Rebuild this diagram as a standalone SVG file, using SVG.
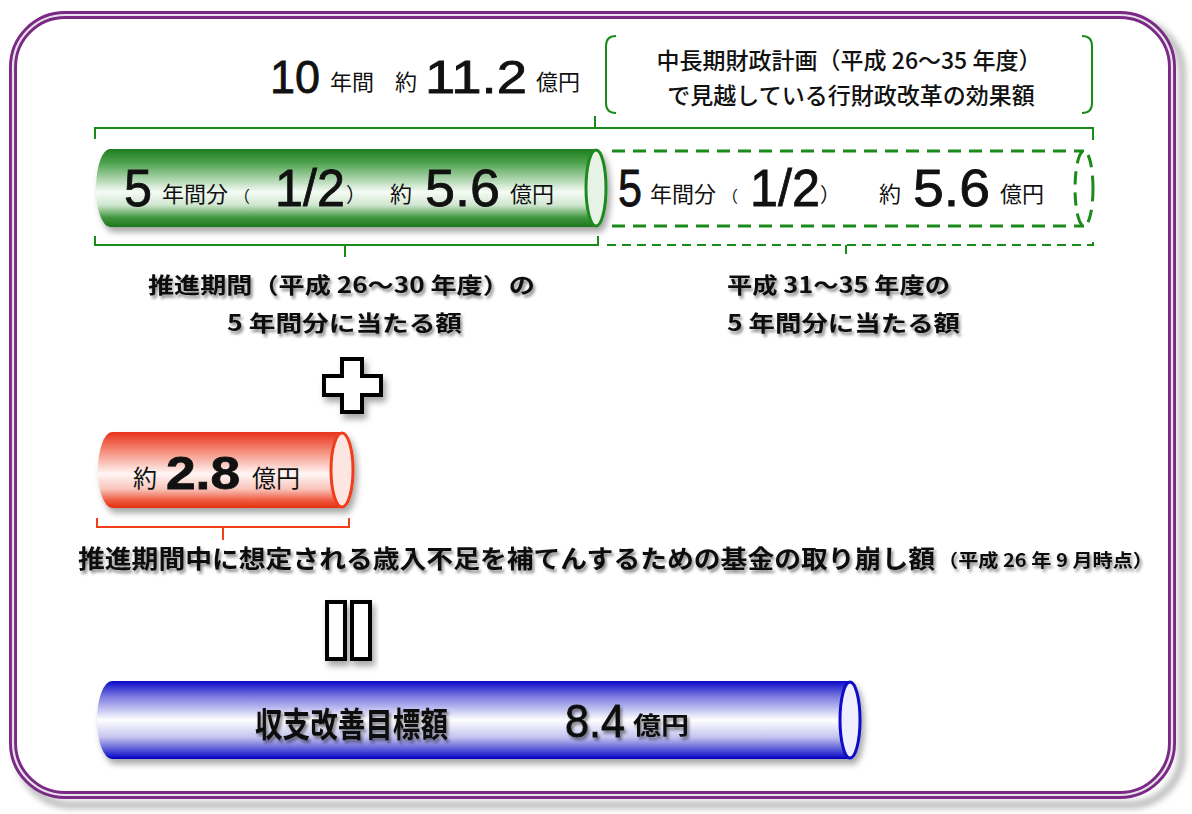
<svg xmlns="http://www.w3.org/2000/svg" width="1192" height="814" viewBox="0 0 1192 814">
<defs>
  <filter id="sh" x="-10%" y="-20%" width="130%" height="160%">
    <feDropShadow dx="3" dy="5" stdDeviation="3" flood-color="#000" flood-opacity="0.35"/>
  </filter>
  <filter id="tsh" x="-5%" y="-30%" width="110%" height="170%">
    <feDropShadow dx="2" dy="3" stdDeviation="1.6" flood-color="#000" flood-opacity="0.45"/>
  </filter>
  <filter id="fsh" x="-5%" y="-5%" width="115%" height="115%">
    <feGaussianBlur stdDeviation="3"/>
  </filter>
  <linearGradient id="gG" x1="0" y1="0" x2="0" y2="1">
    <stop offset="0" stop-color="#1f7d1f"/>
    <stop offset="0.18" stop-color="#4fa34f"/>
    <stop offset="0.55" stop-color="#f6fbf6"/>
    <stop offset="0.72" stop-color="#cfe6cf"/>
    <stop offset="0.88" stop-color="#3f963f"/>
    <stop offset="1" stop-color="#1c751c"/>
  </linearGradient>
  <linearGradient id="gR" x1="0" y1="0" x2="0" y2="1">
    <stop offset="0" stop-color="#e8321a"/>
    <stop offset="0.2" stop-color="#f27a66"/>
    <stop offset="0.55" stop-color="#fff6f4"/>
    <stop offset="0.75" stop-color="#f9c4ba"/>
    <stop offset="0.9" stop-color="#ee5a40"/>
    <stop offset="1" stop-color="#e5300f"/>
  </linearGradient>
  <linearGradient id="gB" x1="0" y1="0" x2="0" y2="1">
    <stop offset="0" stop-color="#0a0ac8"/>
    <stop offset="0.2" stop-color="#7a7ae0"/>
    <stop offset="0.5" stop-color="#ffffff"/>
    <stop offset="0.72" stop-color="#c4c4f0"/>
    <stop offset="0.9" stop-color="#4a4ad6"/>
    <stop offset="1" stop-color="#0000c0"/>
  </linearGradient>
  <style>
    .jp{font-family:"Noto Sans CJK JP","Noto Sans",sans-serif;}
    .num{font-family:"Liberation Sans",Arial,sans-serif;stroke:#111;stroke-width:0.8;}
    .b{font-weight:bold;}
    .br{fill:none;stroke:#1a8a1a;stroke-width:2;}
    .dash{fill:none;stroke:#1a8a1a;stroke-width:3;stroke-dasharray:13 8;}
    .brd{fill:none;stroke:#1a8a1a;stroke-width:2;stroke-dasharray:9 6;}
    .rb{fill:none;stroke:#f0401a;stroke-width:2;}
    .sym{fill:#fff;stroke:#000;stroke-width:4;}
  </style>
</defs>

<g id="frame">
  <rect x="19" y="21" width="1163" height="784" rx="52" fill="none" stroke="#b8b8b8" stroke-width="7" filter="url(#fsh)"/>
  <rect x="13" y="15" width="1159" height="780" rx="52" fill="#fff" stroke="#7a2a85" stroke-width="8"/>
  <rect x="13" y="15" width="1159" height="780" rx="52" fill="none" stroke="#e8e0ea" stroke-width="2.2"/>
</g>

<g id="total-label">
  <text x="270" y="93" class="num" font-size="46" fill="#111" textLength="50" lengthAdjust="spacingAndGlyphs">10</text>
  <text x="330" y="90" class="jp" font-size="22" fill="#111">年間</text>
  <text x="395" y="90" class="jp" font-size="22" fill="#111">約</text>
  <text x="425" y="93" class="num" font-size="46" fill="#111" textLength="102" lengthAdjust="spacingAndGlyphs">11.2</text>
  <text x="536" y="90" class="jp" font-size="22" fill="#111">億円</text>
</g>

<g id="plan-note">
  <path class="br" d="M616 36 Q606 36 606 46 V103 Q606 113 616 113"/>
  <path class="br" d="M1082 36 Q1092 36 1092 46 V103 Q1092 113 1082 113"/>
  <text x="849" y="69" class="jp" font-size="23" font-weight="500" fill="#111" text-anchor="middle">中長期財政計画（平成 26～35 年度）</text>
  <text x="851" y="104" class="jp" font-size="23" font-weight="500" fill="#111" text-anchor="middle">で見越している行財政改革の効果額</text>
</g>

<g id="connectors">
  <path class="br" d="M95 139 V128 H1093 V140 M595 128 V116"/>
  <path class="br" d="M95 236 V245 H598 V236 M345 245 V257"/>
  <path class="brd" d="M607 245 H1093 V236 M846 245 V257"/>
  <path class="rb" d="M97 518 V527 H349 V518 M223 527 V540"/>
</g>

<g id="green-bar" filter="url(#sh)">
  <path d="M110 149 H596 V227 H110 A14 39 0 0 1 110 149 Z" fill="url(#gG)"/>
  <ellipse cx="596" cy="188" rx="10" ry="38" fill="#e6f2e6" stroke="#1f8a1f" stroke-width="3"/>
</g>
<g id="green-bar-text">
  <text x="124" y="206" class="num" font-size="52" fill="#111" textLength="28" lengthAdjust="spacingAndGlyphs">5</text>
  <text x="162" y="202" class="jp" font-size="22" fill="#111">年間分</text>
  <text x="234" y="202" class="jp" font-size="16" fill="#111">（</text>
  <text x="275" y="206" class="num" font-size="52" fill="#111" textLength="70" lengthAdjust="spacingAndGlyphs">1/2</text>
  <text x="346" y="202" class="jp" font-size="20" fill="#111">）</text>
  <text x="390" y="202" class="jp" font-size="22" fill="#111">約</text>
  <text x="425" y="206" class="num" font-size="52" fill="#111" textLength="75" lengthAdjust="spacingAndGlyphs">5.6</text>
  <text x="510" y="202" class="jp" font-size="22" fill="#111">億円</text>
</g>

<g id="dashed-bar">
  <path class="dash" d="M612 151 H1084 M612 226 H1084"/>
  <ellipse class="dash" cx="1084" cy="188.5" rx="9" ry="37.5"/>
  <text x="618" y="206" class="num" font-size="52" fill="#111" textLength="24" lengthAdjust="spacingAndGlyphs">5</text>
  <text x="650" y="202" class="jp" font-size="22" fill="#111">年間分</text>
  <text x="722" y="202" class="jp" font-size="16" fill="#111">（</text>
  <text x="750" y="206" class="num" font-size="52" fill="#111" textLength="70" lengthAdjust="spacingAndGlyphs">1/2</text>
  <text x="820" y="202" class="jp" font-size="20" fill="#111">）</text>
  <text x="879" y="202" class="jp" font-size="22" fill="#111">約</text>
  <text x="913" y="206" class="num" font-size="52" fill="#111" textLength="77" lengthAdjust="spacingAndGlyphs">5.6</text>
  <text x="1000" y="202" class="jp" font-size="22" fill="#111">億円</text>
</g>

<g id="left-label" filter="url(#tsh)">
  <text x="148" y="293" class="jp b" font-size="22" fill="#111" textLength="387" lengthAdjust="spacingAndGlyphs">推進期間（平成 26～30 年度）の</text>
  <text x="227" y="331" class="jp b" font-size="22" fill="#111" textLength="235" lengthAdjust="spacingAndGlyphs">5 年間分に当たる額</text>
</g>

<g id="right-label" filter="url(#tsh)">
  <text x="727" y="293" class="jp b" font-size="22" fill="#111" textLength="223" lengthAdjust="spacingAndGlyphs">平成 31～35 年度の</text>
  <text x="727" y="331" class="jp b" font-size="22" fill="#111" textLength="233" lengthAdjust="spacingAndGlyphs">5 年間分に当たる額</text>
</g>

<g id="plus" filter="url(#sh)">
  <path class="sym" d="M342 359 H362 V376 H381 V395 H362 V412 H342 V395 H324 V376 H342 Z"/>
</g>

<g id="red-bar" filter="url(#sh)">
  <path d="M112 432 H342 V508 H112 A14 38 0 0 1 112 432 Z" fill="url(#gR)"/>
  <ellipse cx="342" cy="470" rx="11" ry="37" fill="#fde6e2" stroke="#f03c1a" stroke-width="3"/>
</g>
<g id="red-bar-text">
  <text x="133" y="487" class="jp" font-size="24" fill="#111">約</text>
  <text x="166" y="489" class="num b" font-size="46" fill="#111" textLength="74" lengthAdjust="spacingAndGlyphs">2.8</text>
  <text x="252" y="487" class="jp" font-size="24" fill="#111">億円</text>
</g>

<g id="fund-label" filter="url(#tsh)">
  <text x="78" y="568" class="jp b" font-size="25" fill="#111" textLength="857" lengthAdjust="spacingAndGlyphs">推進期間中に想定される歳入不足を補てんするための基金の取り崩し額</text>
  <text x="938" y="567" class="jp b" font-size="18" fill="#111" textLength="215" lengthAdjust="spacingAndGlyphs">（平成 26 年 9 月時点）</text>
</g>

<g id="equals" filter="url(#sh)">
  <rect class="sym" x="327" y="602" width="18" height="57"/>
  <rect class="sym" x="352" y="602" width="18" height="57"/>
</g>

<g id="blue-bar" filter="url(#sh)">
  <path d="M112 681 H850 V759 H112 A15 39 0 0 1 112 681 Z" fill="url(#gB)"/>
  <ellipse cx="850" cy="720" rx="10" ry="38" fill="#eeeeff" stroke="#0a0ac8" stroke-width="3"/>
</g>
<g id="blue-bar-text" filter="url(#tsh)">
  <text x="255" y="737" class="jp b" font-size="34" fill="#111" textLength="193" lengthAdjust="spacingAndGlyphs">収支改善目標額</text>
  <text x="565" y="737" class="num" font-size="46" fill="#111" textLength="60" lengthAdjust="spacingAndGlyphs">8.4</text>
  <text x="633" y="734" class="jp b" font-size="24" fill="#111" textLength="56" lengthAdjust="spacingAndGlyphs">億円</text>
</g>
</svg>
